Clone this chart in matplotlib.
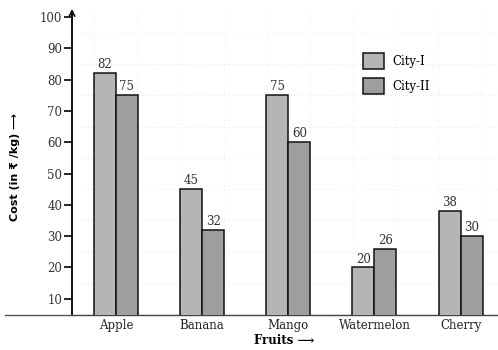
import numpy as np
import matplotlib
matplotlib.use('Agg')
from matplotlib import pyplot as plt
from matplotlib.lines import Line2D

fruits = ['Apple', 'Banana', 'Mango', 'Watermelon', 'Cherry']
city1 = [82, 45, 75, 20, 38]
city2 = [75, 32, 60, 26, 30]
series_names = ['City-I', 'City-II']
yticks = [10, 20, 30, 40, 50, 60, 70, 80, 90, 100]

plt.rcParams['font.family'] = ['DejaVu Serif']

fig = plt.figure(figsize=(4.98, 3.5), dpi=100)
ax = fig.add_axes([0.1446, 0.10, 0.853, 0.8657])

x = np.arange(len(fruits))
w = 0.255
b1 = ax.bar(x - w / 2, city1, w, color='#b5b5b5', edgecolor='#111111', linewidth=1.1,
            label=series_names[0], zorder=3)
b2 = ax.bar(x + w / 2, city2, w, color='#9e9e9e', edgecolor='#111111', linewidth=1.1,
            label=series_names[1], zorder=3)

for bars, vals in ((b1, city1), (b2, city2)):
    for r, v in zip(bars, vals):
        ax.text(r.get_x() + r.get_width() / 2, v + 0.6, str(v), ha='center', va='bottom',
                fontsize=8.5, color='#333333')

ax.set_xlim(-0.51, 4.42)
ax.set_ylim(4.8, 101.6)
ax.set_yticks(yticks)
ax.set_xticks(x)
ax.set_xticklabels(fruits, fontsize=8.5, color='#222222')
ax.tick_params(axis='y', length=6, width=1.2, labelsize=8.5, labelcolor='#333333', pad=1)
ax.tick_params(axis='x', length=0, pad=3)

# faint background grid
for yv in np.arange(10, 101, 10):
    ax.axhline(yv - 5, color='#e4e4e4', lw=0.7, ls=(0, (1, 3)), zorder=0)
for xv in np.arange(-0.25, 4.5, 0.5):
    ax.axvline(xv, color='#ececec', lw=0.7, ls=(0, (1, 3)), zorder=0)

for s in ('top', 'right'):
    ax.spines[s].set_visible(False)
ax.spines['left'].set_linewidth(1.3)
ax.spines['bottom'].set_linewidth(1.0)
ax.spines['bottom'].set_color('#444444')

# arrow at top of y axis
ax.annotate('', xy=(-0.51, 103.5), xytext=(-0.51, 98), xycoords='data',
            arrowprops=dict(arrowstyle='->', lw=1.2, color='#111111'), annotation_clip=False)
# baseline extending left of the y axis
fig.add_artist(Line2D([0.01, 0.1446], [0.10, 0.10], color='#555555', lw=1.0))

ax.set_ylabel('Cost (in ₹ /kg) ⟶', fontsize=8, fontweight='bold',
              family=['DejaVu Sans'])
ax.yaxis.set_label_coords(-0.122, 0.49)
ax.set_xlabel('Fruits ⟶', fontsize=8.5, fontweight='bold', labelpad=1)

ax.legend(loc='upper left', bbox_to_anchor=(0.66, 0.90), frameon=False, fontsize=8.5,
          handlelength=1.8, handleheight=1.7, labelspacing=0.8, handletextpad=0.7)

fig.savefig('out.png', dpi=100)
